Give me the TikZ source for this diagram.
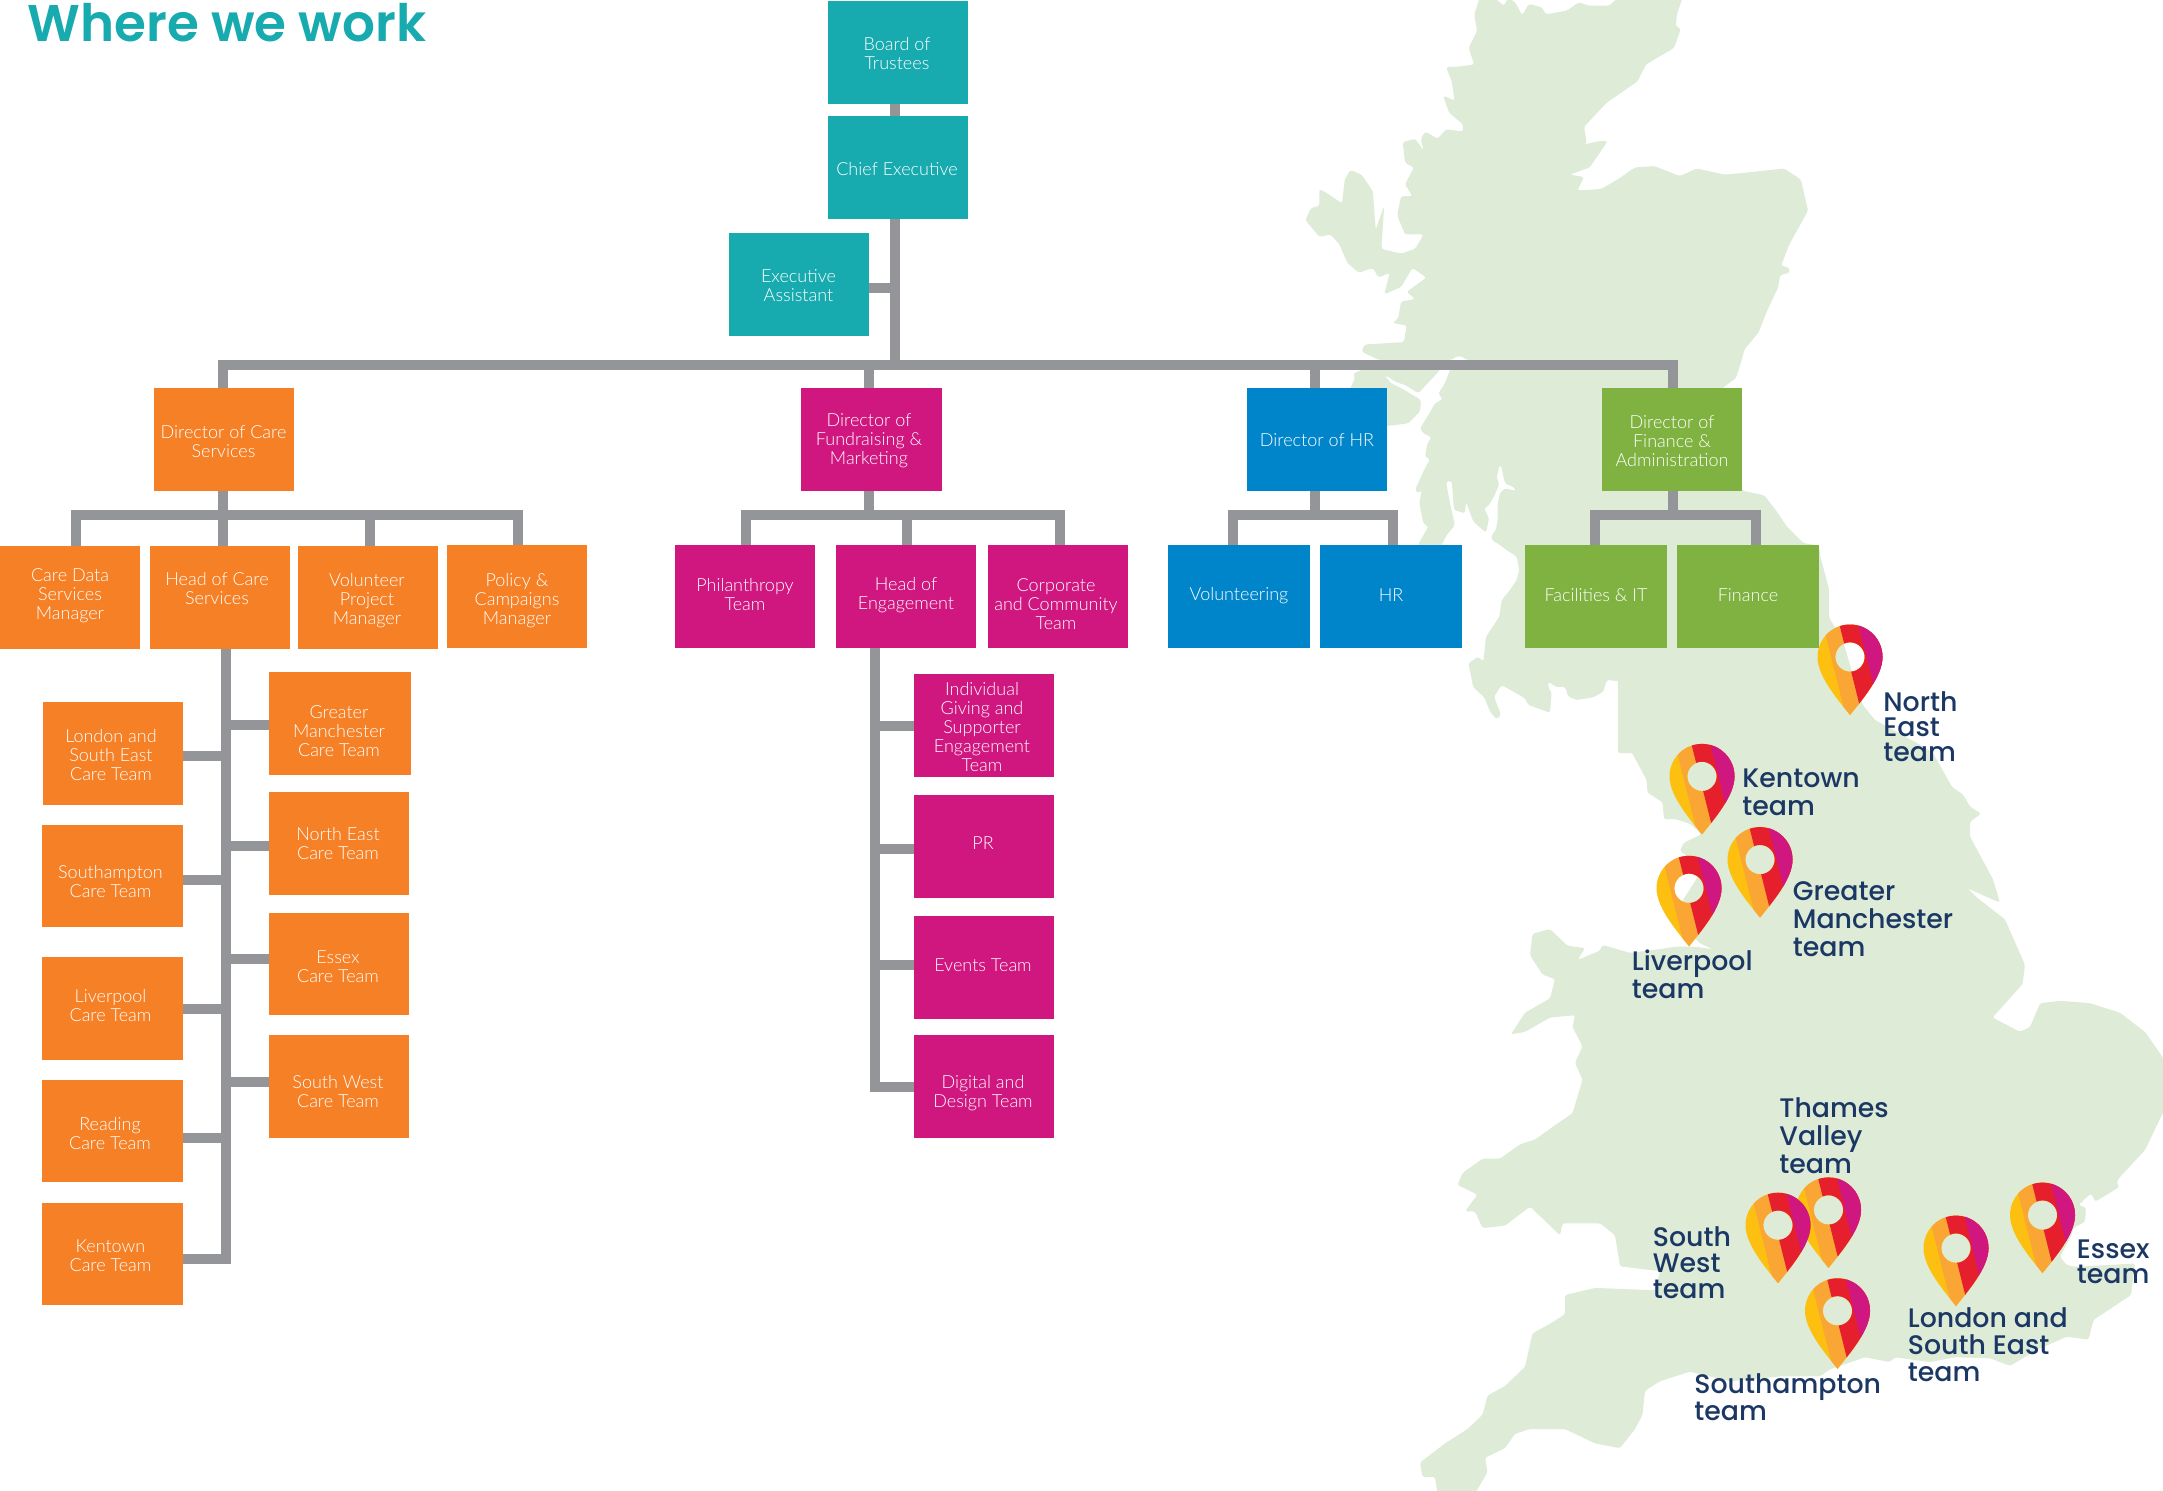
\documentclass[tikz,border=0pt]{standalone}
\usepackage{fontspec}
\setmainfont{Lato}[UprightFont=* Light,BoldFont=* Bold]
\newfontfamily\popm{Poppins}[UprightFont=* Medium,BoldFont=* SemiBold]
\definecolor{teal}{HTML}{17AAAE}
\definecolor{orng}{HTML}{F58025}
\definecolor{mgnt}{HTML}{D0167F}
\definecolor{blu}{HTML}{0085CA}
\definecolor{grn}{HTML}{7FB241}
\definecolor{conngray}{HTML}{949599}
\definecolor{land}{HTML}{DDEBD7}
\definecolor{navy}{HTML}{1B3864}
\definecolor{pyel}{HTML}{FDC010}
\definecolor{porg}{HTML}{FAA634}
\definecolor{pred}{HTML}{E61F2D}
\tikzset{
  orgrect/.style={rectangle,inner sep=0pt,draw=none},
  orgtext/.style={inner sep=0pt,align=center,text=white,font=\fontsize{9}{9.5}\selectfont},
  conn/.style={draw=conngray,line width=5pt,line cap=butt,line join=miter},
  team/.style={inner sep=0pt,anchor=west,align=left,text=navy},
  landfill/.style={fill=land,rounded corners=1.2pt},
}
% name x1 y1 x2 y2 colour textx texty text
\newcommand{\orgbox}[9]{%
  \pgfmathsetmacro\bw{(#4-#2)*0.5}\pgfmathsetmacro\bh{(#5-#3)*0.5}%
  \node[orgrect,fill=#6,minimum width=\bw pt,minimum height=\bh pt] (#1) at ({(#2+#4)/2},{(#3+#5)/2}) {};%
  \node[orgtext] (#1t) at ({#7},{#8+0.2}) {#9};}
\newcommand{\teardrop}{(0,58) .. controls (-11,44) and (-32.5,20) .. (-32.5,0) arc[start angle=180,end angle=360,radius=32.5] .. controls (32.5,20) and (11,44) .. (0,58) -- cycle}
\newcommand{\mappin}[2]{%
  \begin{scope}[shift={(#1,#2)},even odd rule]
    \clip \teardrop (0,0) circle[radius=14.7];
    \fill[pyel] (-40,-40) rectangle (40,65);
    \fill[porg] (-29,-40) -- (50,-40) -- (50,65) -- (-2.75,65) -- cycle;
    \fill[pred] (-12.5,-40) -- (50,-40) -- (50,65) -- (13.75,65) -- cycle;
    \fill[mgnt] (6.5,-40) -- (50,-40) -- (50,65) -- (32.75,65) -- cycle;
  \end{scope}}
\newcommand{\teamlabel}[5]{\node[team,font=\popm\fontsize{13.4}{#4}\selectfont] (#1) at (#2,#3) {#5};}
\begin{document}
\begin{tikzpicture}[x=0.5pt,y=-0.5pt]
\useasboundingbox (0,0) rectangle (2163,1490);
\begin{scope}
\clip (0,0) rectangle (2163,1490);
% north of Scotland
\begin{scope}[shift={(1280,0)},xscale=0.563,yscale=0.4785]
\fill[landfill] (355,-5) -- (380,-5) -- (398,12) -- (405,-5) -- (418,5) -- (430,32) -- (442,8) -- (465,15) -- (472,30) -- (510,22) -- (530,5) -- (550,12) -- (585,12) -- (600,-5) -- (715,-5) -- (705,30) -- (703,55) -- (712,60) -- (700,100) -- (650,135) -- (635,170) -- (580,215) -- (540,265) -- (545,300) -- (530,305) -- (565,295) -- (582,295) -- (550,350) -- (515,365) -- (540,370) -- (528,398) -- (570,395) -- (600,375) -- (630,350) -- (665,347) -- (710,368) -- (740,352) -- (790,365) -- (850,358) -- (895,352) -- (925,375) -- (938,440) -- (905,510) -- (890,555) -- (905,560) -- (905,570) -- (888,575) -- (885,600) -- (865,650) -- (850,695) -- (825,730) -- (820,752) -- (330,752) -- (325,746) -- (315,744) -- (305,752) -- (175,752) -- (145,735) -- (150,720) -- (220,715) -- (225,680) -- (200,675) -- (210,665) -- (215,630) -- (240,625) -- (225,610) -- (260,580) -- (235,560) -- (215,600) -- (185,615) -- (195,570) -- (175,580) -- (165,560) -- (140,570) -- (120,550) -- (105,510) -- (90,490) -- (70,495) -- (45,460) -- (55,435) -- (70,430) -- (70,395) -- (85,405) -- (110,425) -- (115,375) -- (125,355) -- (145,365) -- (165,400) -- (170,480) -- (185,430) -- (180,520) -- (215,530) -- (240,520) -- (255,490) -- (222,490) -- (208,450) -- (215,410) -- (235,410) -- (222,385) -- (238,350) -- (222,340) -- (218,297) -- (240,290) -- (255,315) -- (250,290) -- (258,275) -- (280,290) -- (295,270) -- (325,275) -- (325,260) -- (300,235) -- (290,200) -- (310,210) -- (305,170) -- (295,140) -- (310,140) -- (345,135) -- (335,100) -- (350,65) -- (345,30) -- cycle;
% north-east England, east of the Clyde
\fill[landfill] (600,745) -- (822,745) -- (810,790) -- (785,812) -- (820,1025) -- (860,1035) -- (880,1065) -- (900,1100) -- (930,1135) -- (957,1140) -- (960,1165) -- (975,1230) -- (975,1290) -- (1000,1340) -- (1020,1420) -- (1035,1473) -- (1057,1505) -- (1106,1536) -- (1160,1574) -- (600,1574) -- cycle;
\end{scope}
% west coast from the Firth of Lorn to Cumbria
\begin{scope}[shift={(1340,340)},scale=0.33333]
\fill[landfill] (65,70) -- (65,90) -- (40,100) -- (45,115) -- (35,135) -- (30,150) -- (135,150) -- (138,106) -- (165,125) -- (195,135) -- (235,160) -- (300,90) -- (300,70) -- cycle;
\fill[landfill] (120,112) -- (141,112) -- (150,128) -- (190,148) -- (243,180) -- (240,215) -- (205,250) -- (141,258) -- (120,258) -- cycle;
\fill[landfill] (330,70) -- (330,90) -- (315,130) -- (295,160) -- (308,178) -- (285,190) -- (265,225) -- (240,265) -- (250,280) -- (275,292) -- (262,310) -- (255,350) -- (270,357) -- (250,395) -- (225,450) -- (235,460) -- (245,450) -- (238,490) -- (250,550) -- (265,560) -- (235,612) -- (235,640) -- (305,640) -- (305,615) -- (320,585) -- (345,555) -- (330,490) -- (318,425) -- (335,423) -- (342,510) -- (375,520) -- (378,485) -- (400,545) -- (438,578) -- (447,535) -- (432,505) -- (445,498) -- (462,470) -- (478,432) -- (470,415) -- (478,375) -- (484,378) -- (492,420) -- (497,432) -- (520,440) -- (528,453) -- (495,445) -- (480,458) -- (473,490) -- (473,540) -- (467,572) -- (455,585) -- (455,600) -- (480,615) -- (500,630) -- (530,650) -- (538,690) -- (530,720) -- (510,750) -- (485,780) -- (478,830) -- (438,890) -- (430,965) -- (415,950) -- (385,970) -- (400,1042) -- (433,1072) -- (450,1115) -- (470,1138) -- (483,1125) -- (462,1070) -- (485,1035) -- (555,1075) -- (565,1095) -- (630,1118) -- (635,1055) -- (625,1045) -- (625,1025) -- (650,1042) -- (675,1040) -- (685,1070) -- (710,1080) -- (760,1072) -- (790,1055) -- (800,1020) -- (850,1025) -- (870,1015) -- (870,980) -- (975,978) -- (947,995) -- (955,1015) -- (935,1008) -- (910,1030) -- (895,1090) -- (865,1140) -- (852,1200) -- (855,1206) -- (1100,1206) -- (1100,70) -- cycle;
\end{scope}
% England and Wales
\begin{scope}[shift={(1380,740)},xscale=0.5,yscale=0.4785]
\fill[landfill] (490,0) -- (1064,0) -- (1106,27) -- (1144,98) -- (1166,114) -- (1180,139) -- (1202,154) -- (1180,171) -- (1180,202) -- (1226,291) -- (1240,340) -- (1175,310) -- (1195,330) -- (1250,375) -- (1290,470) -- (1285,510) -- (1225,580) -- (1280,610) -- (1300,600) -- (1320,550) -- (1360,545) -- (1420,550) -- (1480,570) -- (1530,610) -- (1570,670) -- (1570,770) -- (1530,857) -- (1480,913) -- (1473,924) -- (1479,934) -- (1457,948) -- (1430,965) -- (1423,948) -- (1417,952) -- (1397,972) -- (1412,977) -- (1410,1007) -- (1387,1019) -- (1383,1035) -- (1360,1080) -- (1373,1097) -- (1390,1101) -- (1510,1094) -- (1502,1160) -- (1427,1212) -- (1417,1253) -- (1373,1247) -- (1313,1275) -- (1260,1308) -- (1220,1292) -- (1150,1290) -- (1100,1300) -- (1030,1290) -- (1020,1300) -- (970,1290) -- (900,1315) -- (880,1330) -- (800,1330) -- (700,1340) -- (620,1320) -- (560,1340) -- (530,1360) -- (525,1410) -- (510,1440) -- (480,1480) -- (430,1470) -- (370,1440) -- (300,1440) -- (270,1450) -- (250,1480) -- (210,1500) -- (215,1530) -- (190,1575) -- (115,1575) -- (110,1540) -- (85,1540) -- (80,1510) -- (130,1470) -- (175,1440) -- (205,1410) -- (215,1370) -- (250,1350) -- (290,1310) -- (305,1240) -- (340,1220) -- (370,1200) -- (370,1160) -- (430,1145) -- (550,1150) -- (560,1110) -- (480,1100) -- (470,1035) -- (440,1010) -- (365,1010) -- (360,1035) -- (300,975) -- (250,1015) -- (205,1020) -- (190,985) -- (170,985) -- (195,950) -- (155,930) -- (165,905) -- (205,875) -- (240,875) -- (280,845) -- (310,835) -- (350,805) -- (385,780) -- (405,710) -- (390,675) -- (405,640) -- (385,600) -- (390,575) -- (340,580) -- (290,610) -- (262,615) -- (290,570) -- (340,540) -- (350,500) -- (325,490) -- (300,450) -- (305,405) -- (340,395) -- (375,430) -- (410,435) -- (395,460) -- (440,440) -- (445,428) -- (500,445) -- (560,437) -- (590,432) -- (630,432) -- (665,437) -- (640,425) -- (600,380) -- (603,339) -- (637,284) -- (625,250) -- (600,232) -- (607,215) -- (643,197) -- (620,175) -- (590,165) -- (568,166) -- (565,130) -- (535,110) -- (533,83) -- cycle;
\end{scope}
\end{scope}
% title
\node[inner sep=0pt,anchor=base west,text=teal,font=\popm\bfseries\fontsize{25.8}{25.8}\selectfont] (title) at (27,41) {Where we work};
% boxes
\orgbox{board}{828}{1}{968}{104}{teal}{897}{53.5}{Board of\\Trustees}
\orgbox{chief}{828}{116}{968}{219}{teal}{897}{169}{Chief Executive}
\orgbox{exec}{729}{233}{869}{336}{teal}{798.5}{285.5}{Executive\\Assistant}
\orgbox{dcare}{154}{388}{294}{491}{orng}{223.5}{441}{Director of Care\\Services}
\orgbox{dfund}{801}{388}{942}{491}{mgnt}{869}{441}{Director of\\Fundraising \&\\Marketing}
\orgbox{dhr}{1247}{388}{1387}{491}{blu}{1317}{440}{Director of HR}
\orgbox{dfin}{1602}{388}{1742}{491}{grn}{1672}{441}{Director of\\Finance \&\\Administration}
\orgbox{cdata}{0}{546}{140}{649}{orng}{70}{596}{Care Data\\Services\\Manager}
\orgbox{hcare}{150}{546}{290}{649}{orng}{217}{588.5}{Head of Care\\Services}
\orgbox{vol}{298}{546}{438}{649}{orng}{367}{600}{Volunteer\\Project\\Manager}
\orgbox{policy}{447}{545}{587}{648}{orng}{517}{600}{Policy \&\\Campaigns\\Manager}
\orgbox{phil}{675}{545}{815}{648}{mgnt}{745}{594.5}{Philanthropy\\Team}
\orgbox{heng}{836}{545}{976}{648}{mgnt}{906}{594.5}{Head of\\Engagement}
\orgbox{corp}{988}{545}{1128}{648}{mgnt}{1056}{603.5}{Corporate\\and Community\\Team}
\orgbox{volg}{1168}{545}{1310}{648}{blu}{1239}{595}{Volunteering}
\orgbox{hr}{1320}{545}{1462}{648}{blu}{1391}{595}{HR}
\orgbox{fac}{1525}{545}{1667}{648}{grn}{1596}{595}{Facilities \& IT}
\orgbox{fin}{1677}{545}{1819}{648}{grn}{1748}{595}{Finance}
\orgbox{tlon}{43}{702}{183}{805}{orng}{111}{755}{London and\\South East\\Care Team}
\orgbox{tsot}{42}{825}{183}{927}{orng}{110.5}{881}{Southampton\\Care Team}
\orgbox{tliv}{42}{957}{183}{1060}{orng}{110.5}{1005}{Liverpool\\Care Team}
\orgbox{trea}{42}{1080}{183}{1182}{orng}{110}{1133}{Reading\\Care Team}
\orgbox{tken}{42}{1203}{183}{1305}{orng}{110.5}{1255.5}{Kentown\\Care Team}
\orgbox{tgm}{269}{672}{411}{775}{orng}{339}{731}{Greater\\Manchester\\Care Team}
\orgbox{tne}{269}{792}{409}{895}{orng}{338}{843}{North East\\Care Team}
\orgbox{tess}{269}{913}{409}{1015}{orng}{338}{966}{Essex\\Care Team}
\orgbox{tsw}{269}{1035}{409}{1138}{orng}{338}{1091}{South West\\Care Team}
\orgbox{indiv}{914}{674}{1054}{777}{mgnt}{982}{726.5}{Individual\\Giving and\\Supporter\\Engagement\\Team}
\orgbox{pr}{914}{795}{1054}{898}{mgnt}{983}{843}{PR}
\orgbox{events}{914}{916}{1054}{1019}{mgnt}{983}{965}{Events Team}
\orgbox{digital}{914}{1035}{1054}{1138}{mgnt}{983}{1093}{Digital and\\Design Team}
% connectors: top of the tree
\coordinate (busc) at (895,364.5);
\draw[conn] ([shift={(-3,0)}]board.south) -- ([shift={(-3,0)}]chief.north);
\draw[conn] ([shift={(-3,0)}]chief.south) -- (busc);
\draw[conn] ([shift={(0,3)}]exec.east) -- ([shift={(0,3)}]exec.east -| busc);
\draw[conn] ([shift={(-1,0)}]dcare.north) |- (busc) -| ([shift={(1,0)}]dfin.north);
\draw[conn] ([shift={(-2.5,0)}]dfund.north) -- ([shift={(-2.5,0)}]dfund.north |- busc);
\draw[conn] ([shift={(-2,0)}]dhr.north) -- ([shift={(-2,0)}]dhr.north |- busc);
% care services
\coordinate (busa) at (223,515);
\draw[conn] ([shift={(5.5,0)}]cdata.north) |- (busa) -| ([shift={(0.5,0)}]policy.north);
\draw[conn] ([shift={(-1,0)}]dcare.south) -- ([shift={(3,0)}]hcare.north);
\draw[conn] ([shift={(2,0)}]vol.north) -- ([shift={(2,0)}]vol.north |- busa);
\coordinate (trunka) at ([shift={(5.5,0)}]hcare.south);
\draw[conn] (trunka) |- ([shift={(0,5)}]tken.east);
\foreach \n/\d in {tlon/2.5,tsot/4,tliv/0,trea/7}
  \draw[conn] ([shift={(0,\d)}]\n.east) -- ([shift={(0,\d)}]\n.east -| trunka);
\foreach \n/\d in {tgm/1.5,tne/2.5,tess/-5,tsw/-4.5}
  \draw[conn] ([shift={(0,\d)}]\n.west) -- ([shift={(0,\d)}]\n.west -| trunka);
% fundraising
\coordinate (busb) at (869,515);
\draw[conn] ([shift={(0.5,0)}]phil.north) |- (busb) -| ([shift={(2,0)}]corp.north);
\draw[conn] ([shift={(-2.5,0)}]dfund.south) -- (busb);
\draw[conn] ([shift={(1,0)}]heng.north) -- ([shift={(1,0)}]heng.north |- busb);
\coordinate (trunkb) at ([shift={(-31,0)}]heng.south);
\draw[conn] (trunkb) |- (digital.west);
\foreach \n/\d in {indiv/0,pr/2,events/-3}
  \draw[conn] ([shift={(0,\d)}]\n.west) -- ([shift={(0,\d)}]\n.west -| trunkb);
% HR
\coordinate (busd) at (1315,515);
\draw[conn] ([shift={(-6,0)}]volg.north) |- (busd) -| ([shift={(2,0)}]hr.north);
\draw[conn] ([shift={(-2,0)}]dhr.south) -- (busd);
% finance
\coordinate (buse) at (1673,515);
\draw[conn] ([shift={(-1,0)}]fac.north) |- (buse) -| ([shift={(8,0)}]fin.north);
\draw[conn] ([shift={(1,0)}]dfin.south) -- (buse);
% pins
\mappin{1850}{657}
\mappin{1702}{776.4}
\mappin{1760}{859.6}
\mappin{1689}{888.3}
\mappin{1828.5}{1209.9}
\mappin{1778}{1225.2}
\mappin{1837.5}{1310.8}
\mappin{1956}{1248.1}
\mappin{2042.5}{1215.1}
% labels
\teamlabel{lne}{1883}{727}{12.5}{North\\East\\team}
\teamlabel{lken}{1742}{792.6}{14}{Kentown\\team}
\teamlabel{lgm}{1792.5}{919.4}{14}{Greater\\Manchester\\team}
\teamlabel{lliv}{1631.5}{974.5}{14}{Liverpool\\team}
\teamlabel{ltv}{1779}{1135.5}{14}{Thames\\Valley\\team}
\teamlabel{lsw}{1652.5}{1263}{13}{South\\West\\team}
\teamlabel{lsot}{1694}{1397}{12}{Southampton\\team}
\teamlabel{llon}{1907.5}{1345}{13.5}{London and\\South East\\team}
\teamlabel{less}{2076.5}{1262}{12.5}{Essex\\team}
\end{tikzpicture}
\end{document}
